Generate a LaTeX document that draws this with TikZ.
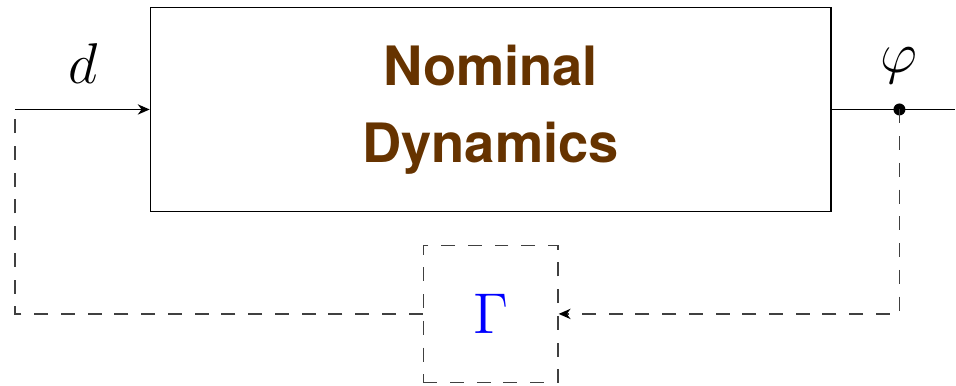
\documentclass[tikz,border=0pt]{standalone}
\usepackage{fontspec}
\setsansfont{TeX Gyre Heros}
\definecolor{nombrown}{RGB}{102,51,0}
\usepackage{tikz}
\usetikzlibrary{arrows.meta,positioning,calc}
\usepackage{amsmath,amssymb}

\begin{document}
\begin{tikzpicture}[
      sysbox/.style={draw, line width=0.35pt, minimum width=170.5pt, minimum height=51pt, align=center, text=nombrown, font=\sffamily\bfseries\fontsize{13.6}{19.25}\selectfont},
      gambox/.style={draw=black!75, dashed, dash pattern=on 3.5pt off 3.2pt, line width=0.35pt, minimum width=33.75pt, minimum height=34.25pt, text=blue, font=\fontsize{13.5}{16}\selectfont},
      sig/.style={line width=0.35pt},
      fb/.style={draw=black!75, dash pattern=on 3.5pt off 3.2pt, line width=0.35pt},
      arrow/.style={-{Stealth[length=3pt,width=2.6pt,color=black]}},
      label/.style={anchor=base, inner sep=0pt, font=\fontsize{14.4}{16}\selectfont}
    ]
      % Plant
      \node[sysbox] (nom) {Nominal\\Dynamics};
      \coordinate[left=33.75pt of nom.west] (in);
      \coordinate[right=17pt of nom.east] (out);
      \coordinate[right=14pt of out] (outend);

      % Uncertainty block
      \node[gambox, below=8.25pt of nom] (gam) {$\Gamma$};

      % Signals
      \draw[sig,arrow] (in) -- (nom.west);
      \draw[sig] (nom.east) -- (outend);
      \fill (out) circle (1.5pt);

      \node[label] (dlab) at ($(in)+(17pt,6.5pt)$) {$d$};
      \node[label] (philab) at ($(out)+(0,9.25pt)$) {$\varphi$};

      % Feedback loop
      \draw[fb,arrow] (out) |- (gam.east);
      \draw[fb] (gam.west) -| (in);

      \path[use as bounding box] ($(in |- nom.north)+(-3.75pt,1.75pt)$) rectangle ($(outend |- gam.south)+(0,-0.75pt)$);
    \end{tikzpicture}
\end{document}
